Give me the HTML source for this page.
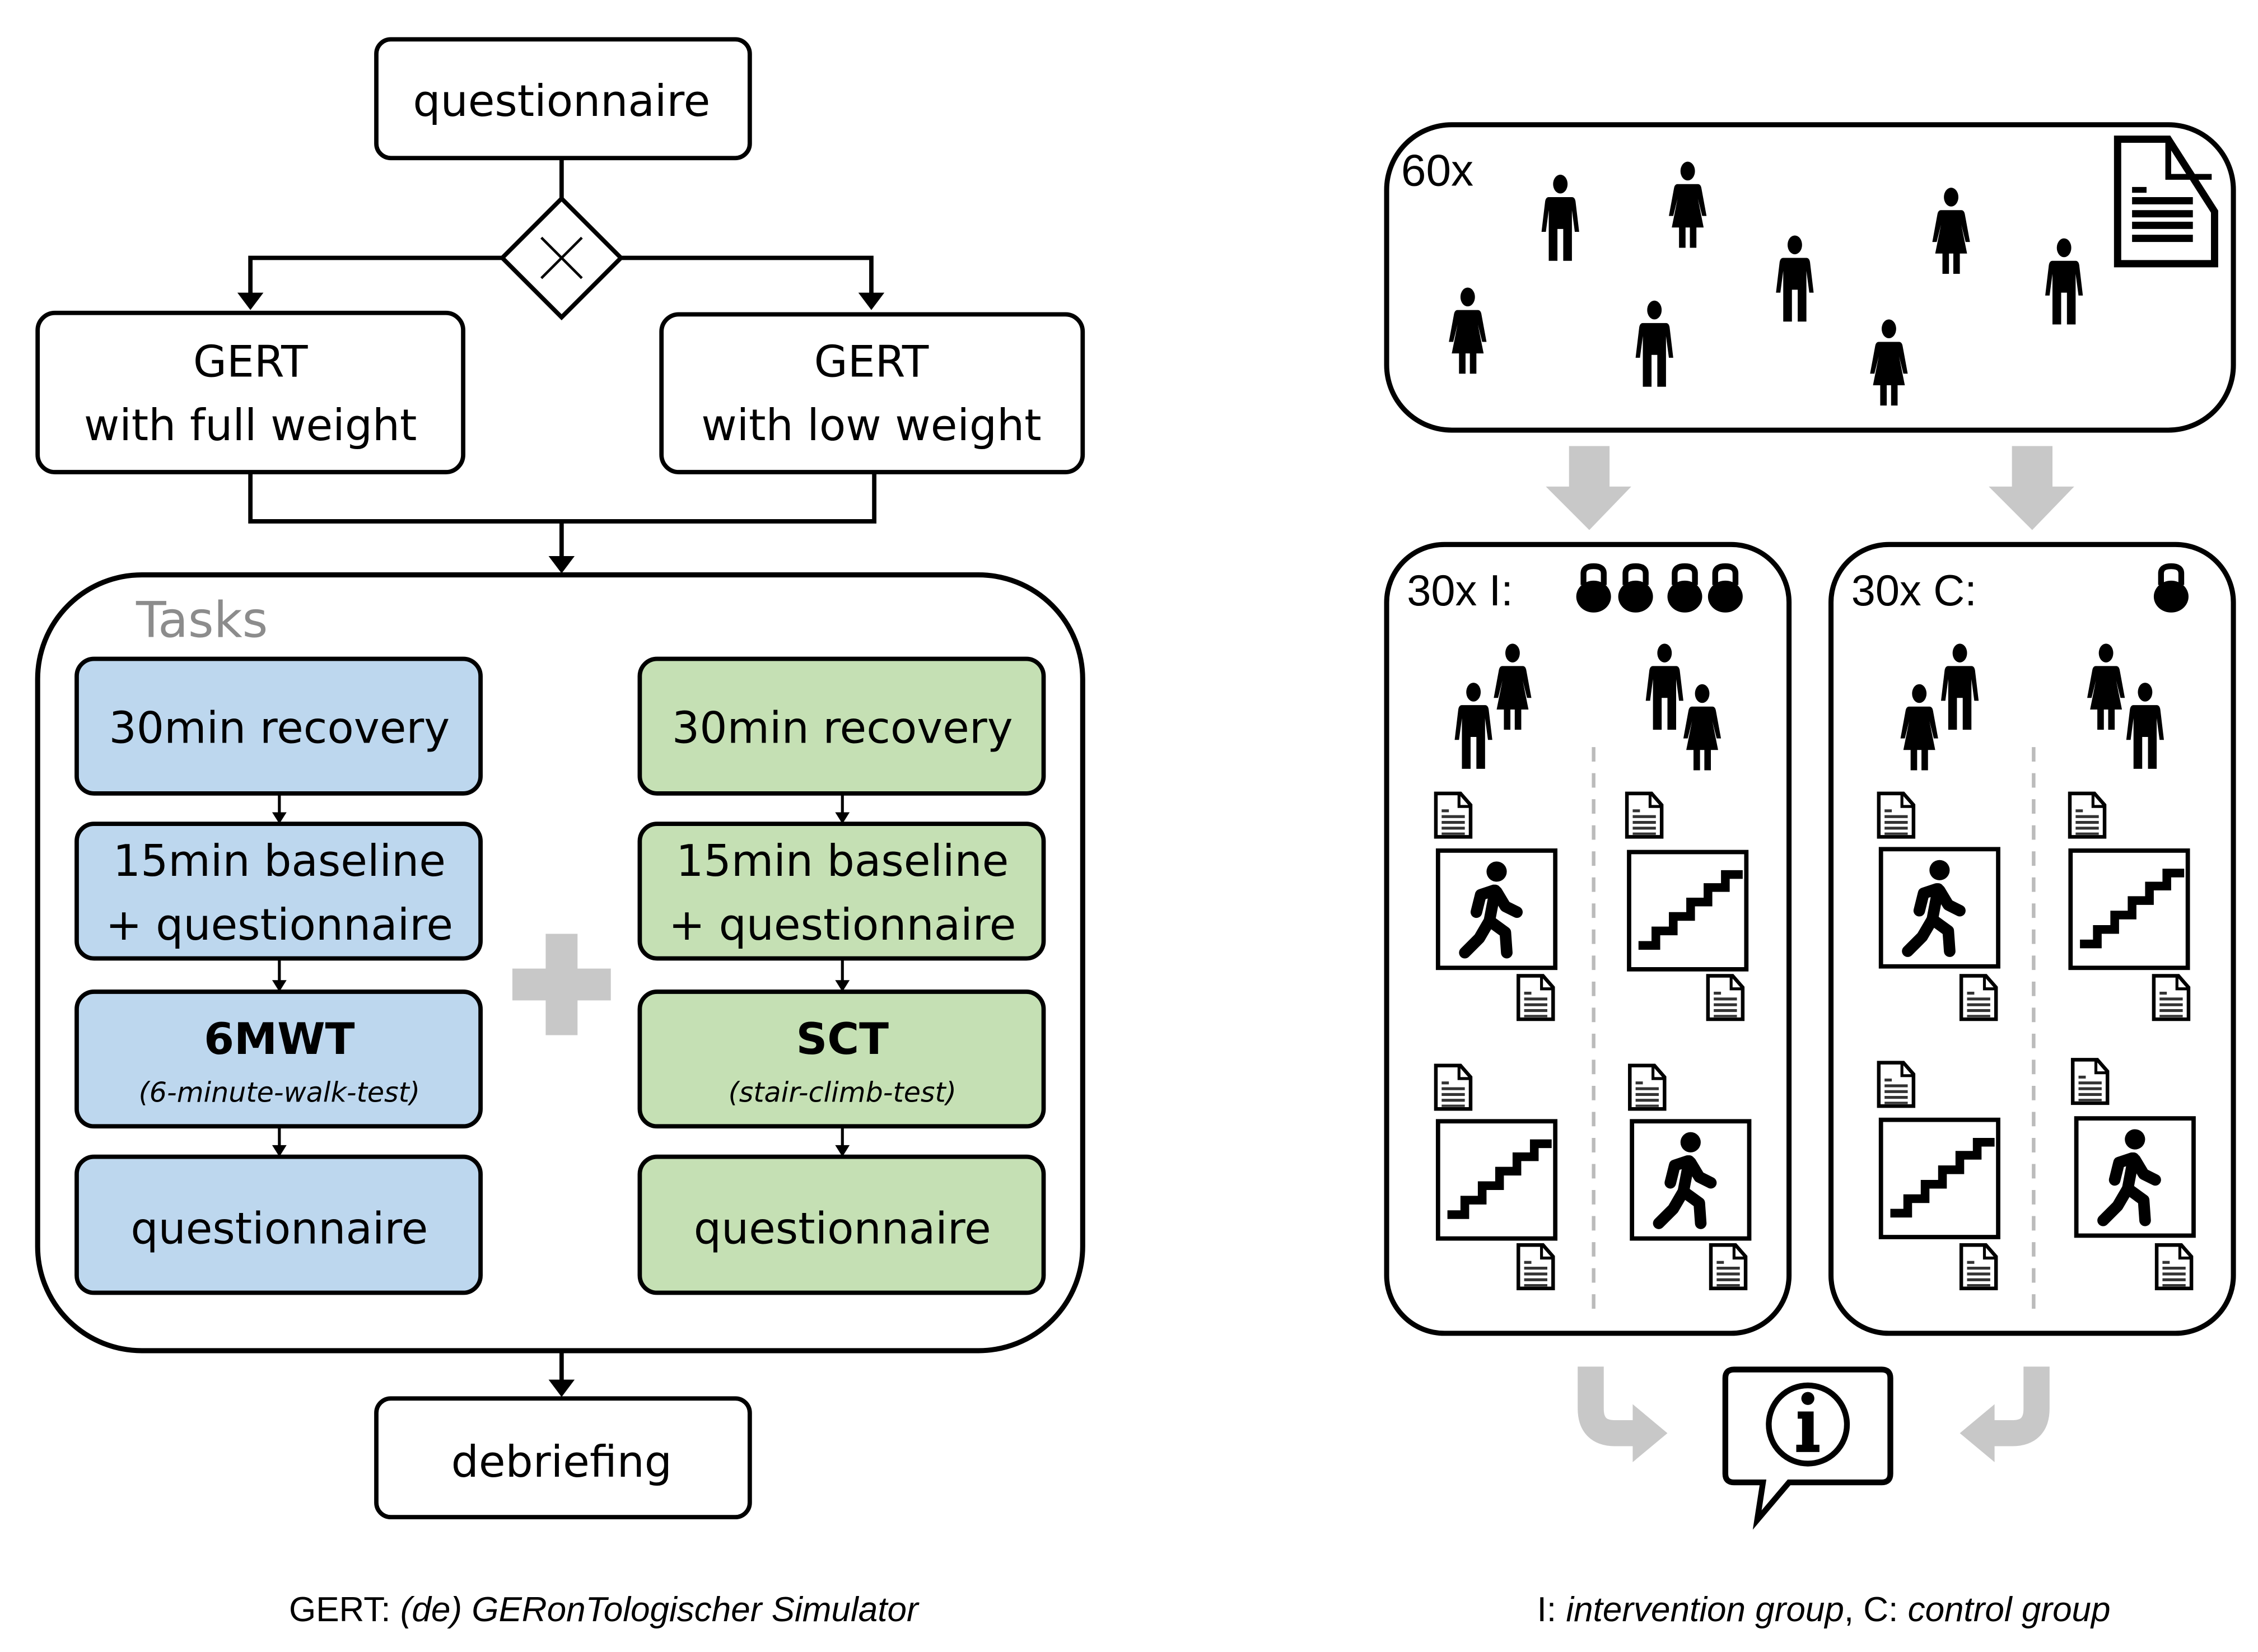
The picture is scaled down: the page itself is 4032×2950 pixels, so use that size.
<!DOCTYPE html>
<html><head><meta charset="utf-8"><style>
html,body{margin:0;padding:0;background:#fff;}
svg{display:block;}
text{font-family:"DejaVu Sans","Liberation Sans",sans-serif;}
.ar{font-family:"Liberation Sans",sans-serif;}
</style></head><body>
<svg width="4032" height="2950" viewBox="0 0 1560 1141" xmlns="http://www.w3.org/2000/svg">
<defs>
<symbol id="man" viewBox="0 0 28 60" overflow="visible">
<ellipse cx="14" cy="7" rx="5" ry="6.5"/>
<path d="M6 16 H22 Q24 16 24.5 19 L27 40 H24 L22 25 V60 H16 V38 H12 V60 H6 V25 L4 40 H1 L3.5 19 Q4 16 6 16 Z"/>
</symbol>
<symbol id="woman" viewBox="0 0 28 60" overflow="visible">
<ellipse cx="14" cy="7" rx="5" ry="6.5"/>
<path d="M7 16 H21 Q23 16 23.5 19 L27 38 H24 L21 26 L25 46 H3 L7 26 L4 38 H1 L4.5 19 Q5 16 7 16 Z"/>
<rect x="8" y="45" width="4.5" height="15"/><rect x="15.5" y="45" width="4.5" height="15"/>
</symbol>
<symbol id="doc" viewBox="0 0 28 34" overflow="visible">
<path d="M2 2 H19 L26 10 V32 H2 Z" fill="#fff" stroke="#000" stroke-width="2.5"/>
<path d="M18 2 V11 H26" fill="none" stroke="#000" stroke-width="2"/>
<rect x="6" y="13" width="5" height="2" fill="#333"/>
<rect x="6" y="17" width="16" height="2" fill="#333"/>
<rect x="6" y="21" width="16" height="2" fill="#333"/>
<rect x="6" y="25" width="16" height="2" fill="#333"/>
<rect x="6" y="29" width="16" height="1.6" fill="#333"/>
</symbol>
<symbol id="walk" viewBox="0 0 84 84" overflow="visible">
<rect x="1.5" y="1.5" width="81" height="81" fill="#fff" stroke="#000" stroke-width="3"/>
<circle cx="42" cy="16" r="7"/>
<g fill="none" stroke="#000" stroke-width="8" stroke-linecap="round" stroke-linejoin="round">
<path d="M41 29 L37 50"/>
<path d="M40 29 L31 32 L28 44"/>
<path d="M42 30 L48 40 L56 44"/>
<path d="M37 50 L30 62 L20 72"/>
<path d="M37 50 L48 58 L49 72"/>
</g>
</symbol>
<symbol id="stair" viewBox="0 0 84 84" overflow="visible">
<rect x="1.5" y="1.5" width="81" height="81" fill="#fff" stroke="#000" stroke-width="3"/>
<path d="M8 66 H20 V56 H32 V46 H44 V36 H56 V26 H68 V17 H80" fill="none" stroke="#000" stroke-width="6"/>
</symbol>
<symbol id="kb" viewBox="0 0 28 36" overflow="visible">
<path d="M7 16 V8 Q7 3 14 3 Q21 3 21 8 V16" fill="none" stroke="#000" stroke-width="4"/>
<ellipse cx="14" cy="24" rx="12" ry="11"/>
</symbol>
</defs>

<g fill="none" stroke="#000" stroke-width="3">
<rect x="260" y="27" width="258" height="82" rx="10" fill="#fff"/>
<line x1="388" y1="109" x2="388" y2="138"/>
<polygon points="388,137 429,178 388,219 347,178" fill="#fff"/>
<path d="M374 164 L402 192 M402 164 L374 192" stroke-width="1.8"/>
<path d="M347 178 H173 V204 M429 178 H602 V204"/>
<rect x="26" y="216" width="294" height="110" rx="12" fill="#fff"/>
<rect x="457" y="217" width="291" height="109" rx="12" fill="#fff"/>
<path d="M173 326 V360 H604 V326 M388 360 V386"/>
<rect x="26" y="397" width="722" height="536" rx="72" fill="#fff" stroke-width="3.5"/>
<line x1="388" y1="933" x2="388" y2="955"/>
<rect x="260" y="966" width="258" height="82" rx="10" fill="#fff"/>
</g>
<g fill="#000">
<path d="M164 202 H182 L173 214 Z"/><path d="M593 202 H611 L602 214 Z"/>
<path d="M379 384 H397 L388 396 Z"/><path d="M379 953 H397 L388 965 Z"/>
</g>
<text x="388" y="80" font-size="30" text-anchor="middle">questionnaire</text>
<text x="173" y="260" font-size="30" text-anchor="middle">GERT</text>
<text x="173" y="304" font-size="30" text-anchor="middle">with full weight</text>
<text x="602" y="260" font-size="30" text-anchor="middle">GERT</text>
<text x="602" y="304" font-size="30" text-anchor="middle">with low weight</text>
<text x="94" y="440" font-size="34" fill="#8c8c8c">Tasks</text>
<text x="388" y="1020" font-size="30" text-anchor="middle">debriefing</text>

<g stroke="#000" stroke-width="3">
<rect x="53" y="455" width="279" height="93" rx="12" fill="#bdd7ee"/>
<rect x="53" y="569" width="279" height="93" rx="12" fill="#bdd7ee"/>
<rect x="53" y="685" width="279" height="93" rx="12" fill="#bdd7ee"/>
<rect x="53" y="799" width="279" height="94" rx="12" fill="#bdd7ee"/>
<rect x="442" y="455" width="279" height="93" rx="12" fill="#c5e0b4"/>
<rect x="442" y="569" width="279" height="93" rx="12" fill="#c5e0b4"/>
<rect x="442" y="685" width="279" height="93" rx="12" fill="#c5e0b4"/>
<rect x="442" y="799" width="279" height="94" rx="12" fill="#c5e0b4"/>
</g>
<g stroke="#000" stroke-width="2">
<path d="M193 548 V562 M193 662 V678 M193 778 V792 M582 548 V562 M582 662 V678 M582 778 V792"/>
</g>
<g fill="#000">
<path d="M188 561 H198 L193 569 Z"/><path d="M188 677 H198 L193 685 Z"/><path d="M188 791 H198 L193 799 Z"/>
<path d="M577 561 H587 L582 569 Z"/><path d="M577 677 H587 L582 685 Z"/><path d="M577 791 H587 L582 799 Z"/>
</g>
<text x="193" y="513" font-size="30" text-anchor="middle">30min recovery</text>
<text x="193" y="605" font-size="30" text-anchor="middle">15min baseline</text>
<text x="193" y="649" font-size="30" text-anchor="middle">+ questionnaire</text>
<text x="193" y="728" font-size="30" font-weight="bold" text-anchor="middle">6MWT</text>
<text x="193" y="761" font-size="19" font-style="italic" text-anchor="middle">(6-minute-walk-test)</text>
<text x="193" y="859" font-size="30" text-anchor="middle">questionnaire</text>
<text x="582" y="513" font-size="30" text-anchor="middle">30min recovery</text>
<text x="582" y="605" font-size="30" text-anchor="middle">15min baseline</text>
<text x="582" y="649" font-size="30" text-anchor="middle">+ questionnaire</text>
<text x="582" y="728" font-size="30" font-weight="bold" text-anchor="middle">SCT</text>
<text x="582" y="761" font-size="19" font-style="italic" text-anchor="middle">(stair-climb-test)</text>
<text x="582" y="859" font-size="30" text-anchor="middle">questionnaire</text>
<g fill="#c8c8c8"><rect x="377" y="645" width="22" height="70"/><rect x="354" y="669" width="68" height="22"/></g>

<text x="417" y="1120" font-size="24" text-anchor="middle" class="ar">GERT: <tspan font-style="italic">(de) GERonTologischer Simulator</tspan></text>
<text x="1260" y="1120" font-size="24" text-anchor="middle" class="ar">I: <tspan font-style="italic">intervention group</tspan>, C: <tspan font-style="italic">control group</tspan></text>

<!-- right -->
<rect x="958" y="86" width="585" height="211" rx="45" fill="#fff" stroke="#000" stroke-width="3.5"/>
<text x="968" y="128" font-size="31" class="ar">60x</text>
<path d="M1463 96 H1498 L1530 146 V182 H1463 Z" fill="none" stroke="#000" stroke-width="5" stroke-linejoin="miter"/>
<path d="M1498 96 V122 H1528" fill="none" stroke="#000" stroke-width="4"/>
<g fill="#000"><rect x="1473" y="129" width="10" height="4"/><rect x="1473" y="136" width="42" height="5"/><rect x="1473" y="145" width="42" height="5"/><rect x="1473" y="153" width="42" height="5"/><rect x="1473" y="162" width="42" height="5"/></g>
<g fill="#000">
<use href="#man" x="1064" y="120" width="28" height="60"/>
<use href="#woman" x="1152" y="110" width="28" height="62"/>
<use href="#man" x="1226" y="161" width="28" height="62"/>
<use href="#woman" x="1334" y="128" width="28" height="62"/>
<use href="#man" x="1412" y="163" width="28" height="62"/>
<use href="#woman" x="1000" y="197" width="28" height="62"/>
<use href="#man" x="1129" y="206" width="28" height="62"/>
<use href="#woman" x="1291" y="219" width="28" height="62"/>
</g>
<g fill="#c8c8c8">
<path d="M1084 308 H1112 V336 H1127 L1098 366 L1068 336 H1084 Z"/>
<path d="M1390 308 H1418 V336 H1433 L1404 366 L1374 336 H1390 Z"/>
</g>

<rect x="958" y="376" width="278" height="545" rx="40" fill="#fff" stroke="#000" stroke-width="3.5"/>
<rect x="1265" y="376" width="278" height="545" rx="40" fill="#fff" stroke="#000" stroke-width="3.5"/>
<text x="972" y="418" font-size="30" class="ar">30x I:</text>
<text x="1279" y="418" font-size="30" class="ar">30x C:</text>
<g fill="#000">
<use href="#kb" x="1087" y="388" width="28" height="36"/>
<use href="#kb" x="1116" y="388" width="28" height="36"/>
<use href="#kb" x="1150" y="388" width="28" height="36"/>
<use href="#kb" x="1178" y="388" width="28" height="36"/>
<use href="#kb" x="1486" y="388" width="28" height="36"/>
<use href="#man" x="1004" y="471" width="28" height="60"/>
<use href="#woman" x="1031" y="443" width="28" height="62"/>
<use href="#man" x="1136" y="444" width="28" height="60"/>
<use href="#woman" x="1162" y="471" width="28" height="62"/>
<use href="#woman" x="1312" y="471" width="28" height="62"/>
<use href="#man" x="1340" y="443" width="28" height="62"/>
<use href="#woman" x="1441" y="443" width="28" height="62"/>
<use href="#man" x="1468" y="471" width="28" height="60"/>
</g>
<g stroke="#bbb" stroke-width="2.5" stroke-dasharray="10,8">
<line x1="1101" y1="516" x2="1101" y2="910"/><line x1="1405" y1="516" x2="1405" y2="910"/>
</g>
<use href="#walk" x="992" y="586" width="84" height="84"/>
<use href="#stair" x="1124" y="587" width="84" height="84"/>
<use href="#stair" x="992" y="773" width="84" height="84"/>
<use href="#walk" x="1126" y="773" width="84" height="84"/>
<use href="#walk" x="1298" y="585" width="84" height="84"/>
<use href="#stair" x="1429" y="586" width="84" height="84"/>
<use href="#stair" x="1298" y="772" width="84" height="84"/>
<use href="#walk" x="1433" y="771" width="84" height="84"/>
<g>
<use href="#doc" x="990" y="546" width="28" height="34"/>
<use href="#doc" x="1047" y="672" width="28" height="34"/>
<use href="#doc" x="1122" y="546" width="28" height="34"/>
<use href="#doc" x="1178" y="672" width="28" height="34"/>
<use href="#doc" x="990" y="734" width="28" height="34"/>
<use href="#doc" x="1047" y="858" width="28" height="34"/>
<use href="#doc" x="1124" y="734" width="28" height="34"/>
<use href="#doc" x="1180" y="858" width="28" height="34"/>
<use href="#doc" x="1296" y="546" width="28" height="34"/>
<use href="#doc" x="1353" y="672" width="28" height="34"/>
<use href="#doc" x="1428" y="546" width="28" height="34"/>
<use href="#doc" x="1486" y="672" width="28" height="34"/>
<use href="#doc" x="1296" y="732" width="28" height="34"/>
<use href="#doc" x="1353" y="858" width="28" height="34"/>
<use href="#doc" x="1430" y="730" width="28" height="34"/>
<use href="#doc" x="1488" y="858" width="28" height="34"/>
</g>

<g fill="none" stroke="#c8c8c8" stroke-width="18">
<path d="M1099 944 V973 Q1099 990 1116 990 H1130"/>
<path d="M1407 944 V973 Q1407 990 1390 990 H1376"/>
</g>
<g fill="#c8c8c8">
<path d="M1128 970 L1152 990 L1128 1010 Z"/>
<path d="M1378 970 L1354 990 L1378 1010 Z"/>
</g>
<path d="M1198 946 H1300 Q1306 946 1306 952 V1018 Q1306 1024 1300 1024 H1236 L1214 1050 L1218 1024 H1198 Q1192 1024 1192 1018 V952 Q1192 946 1198 946 Z" fill="#fff" stroke="#000" stroke-width="4"/>
<circle cx="1249" cy="984" r="27" fill="#fff" stroke="#000" stroke-width="4"/>
<circle cx="1249" cy="966" r="4.5"/>
<path d="M1242 975 H1253 V998 H1257 V1003 H1241 V998 H1245 V980 H1242 Z"/>
</svg>
</body></html>
